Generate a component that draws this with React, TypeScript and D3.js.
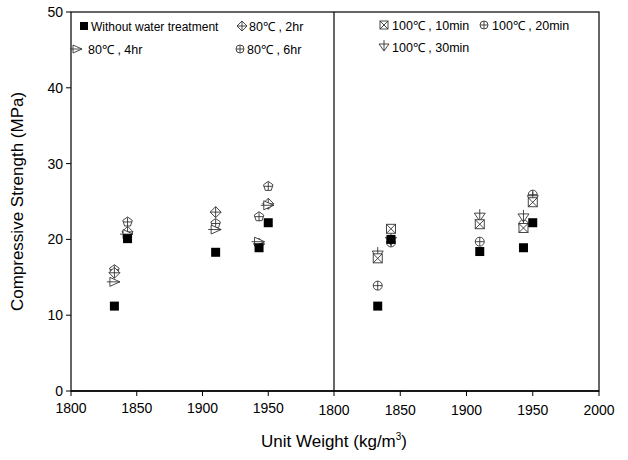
import React from "react";
import * as d3 from "d3";

const xTicksLeft = [1800, 1850, 1900, 1950];
const xTicksRight = [1800, 1850, 1900, 1950, 2000];
const yTicks = [0, 10, 20, 30, 40, 50];
const weights = [1833, 1843, 1910, 1943, 1950];

// Left panel
const noTreatLeft = [11.2, 20.1, 18.3, 18.9, 22.2];
const hr2 = [15.6, 21.0, 23.6, 19.4, 24.7];
const hr4 = [14.4, 20.7, 21.3, 19.7, 24.5];
const hr6 = [16.0, 22.3, 22.1, 23.0, 27.0];
// Right panel
const noTreatRight = [11.2, 20.0, 18.4, 18.9, 22.2];
const min10 = [17.5, 21.4, 22.0, 21.5, 24.9];
const min20 = [13.9, 19.6, 19.7, 22.0, 25.9];
const min30 = [18.0, 19.8, 23.0, 22.9, 25.3];

const W = 628, H = 460;
const L = 71, R = 599, T = 12, B = 391, MID = 334;

type Kind = "sq" | "dia" | "triR" | "circ" | "sqx" | "triD" | "pent";

function Marker({ kind, x, y, s = 4.5 }: { kind: Kind; x: number; y: number; s?: number }) {
  const st = { fill: "white", stroke: "#333", strokeWidth: 0.9 } as any;
  switch (kind) {
    case "sq":
      return <rect x={x - s} y={y - s} width={2 * s} height={2 * s} fill="#000" />;
    case "dia":
      return (
        <g>
          <polygon points={`${x},${y - s - 1} ${x + s + 1},${y} ${x},${y + s + 1} ${x - s - 1},${y}`} {...st} />
          <line x1={x - s - 1} x2={x + s + 1} y1={y} y2={y} stroke="#333" strokeWidth={0.9} />
          <line x1={x} x2={x} y1={y - s - 1} y2={y + s + 1} stroke="#333" strokeWidth={0.9} />
        </g>
      );
    case "triR":
      return (
        <g>
          <polygon points={`${x - s},${y - s} ${x + s + 1},${y} ${x - s},${y + s}`} {...st} />
          <line x1={x - s - 3} x2={x + s + 1} y1={y} y2={y} stroke="#333" strokeWidth={0.9} />
        </g>
      );
    case "circ":
      return (
        <g>
          <circle cx={x} cy={y} r={s} {...st} />
          <line x1={x - s} x2={x + s} y1={y} y2={y} stroke="#333" strokeWidth={0.9} />
          <line x1={x} x2={x} y1={y - s} y2={y + s} stroke="#333" strokeWidth={0.9} />
        </g>
      );
    case "pent": {
      const pts = d3.range(5).map((i) => {
        const a = -Math.PI / 2 + (i * 2 * Math.PI) / 5;
        return `${x + (s + 0.5) * Math.cos(a)},${y + (s + 0.5) * Math.sin(a)}`;
      }).join(" ");
      return (
        <g>
          <polygon points={pts} {...st} />
          <line x1={x - s} x2={x + s} y1={y} y2={y} stroke="#333" strokeWidth={0.9} />
          <line x1={x} x2={x} y1={y - s} y2={y + s} stroke="#333" strokeWidth={0.9} />
        </g>
      );
    }
    case "sqx":
      return (
        <g>
          <rect x={x - s} y={y - s} width={2 * s} height={2 * s} {...st} />
          <line x1={x - s} x2={x + s} y1={y - s} y2={y + s} stroke="#333" strokeWidth={0.9} />
          <line x1={x - s} x2={x + s} y1={y + s} y2={y - s} stroke="#333" strokeWidth={0.9} />
        </g>
      );
    case "triD":
      return (
        <g>
          <polygon points={`${x - s - 1},${y - s + 1} ${x + s + 1},${y - s + 1} ${x},${y + s}`} {...st} />
          <line x1={x} x2={x} y1={y - s - 3} y2={y + s} stroke="#333" strokeWidth={0.9} />
        </g>
      );
  }
  return null;
}

export default function App() {
  const y = d3.scaleLinear().domain([0, 50]).range([B, T]);
  const xl = d3.scaleLinear().domain([1800, 2000]).range([L, MID]);
  const xr = d3.scaleLinear().domain([1800, 2000]).range([MID, R]);

  const leftSeries: { kind: Kind; vals: number[] }[] = [
    { kind: "pent", vals: hr6 },
    { kind: "dia", vals: hr2 },
    { kind: "triR", vals: hr4 },
    { kind: "sq", vals: noTreatLeft },
  ];
  const rightSeries: { kind: Kind; vals: number[] }[] = [
    { kind: "circ", vals: min20 },
    { kind: "triD", vals: min30 },
    { kind: "sqx", vals: min10 },
    { kind: "sq", vals: noTreatRight },
  ];

  const font = "Arial, 'Liberation Sans', sans-serif";

  return (
    <svg width={W} height={H} style={{ position: "absolute", left: 0, top: 0, background: "white" }} fontFamily={font}>
      <rect x={0} y={0} width={W} height={H} fill="white" />
      {/* frame */}
      <rect x={L} y={T} width={R - L} height={B - T} fill="none" stroke="#000" strokeWidth={1.2} />
      <line x1={L} x2={R} y1={B} y2={B} stroke="#000" strokeWidth={1.6} />
      <line x1={MID} x2={MID} y1={T} y2={B} stroke="#000" strokeWidth={1.2} />
      {/* y ticks */}
      {yTicks.map((t) => (
        <g key={"y" + t}>
          <line x1={L - 5} x2={L} y1={y(t)} y2={y(t)} stroke="#000" />
          <text x={L - 8} y={y(t)} dy="0.35em" textAnchor="end" fontSize={14}>{t}</text>
        </g>
      ))}
      {/* x ticks */}
      {xTicksLeft.map((t) => (
        <g key={"xl" + t}>
          <line x1={xl(t)} x2={xl(t)} y1={B} y2={B + 5} stroke="#000" />
          <text x={xl(t)} y={B + 22} textAnchor="middle" fontSize={14}>{t}</text>
        </g>
      ))}
      {xTicksRight.map((t) => (
        <g key={"xr" + t}>
          <line x1={xr(t)} x2={xr(t)} y1={B} y2={B + 5} stroke="#000" />
          <text x={xr(t)} y={B + 24} textAnchor="middle" fontSize={14}>{t}</text>
        </g>
      ))}
      {/* axis titles */}
      <text x={334} y={447} textAnchor="middle" fontSize={17}>
        Unit Weight (kg/m<tspan dy={-7} fontSize={10}>3</tspan><tspan dy={7}>)</tspan>
      </text>
      <text transform={`translate(23,${(T + B) / 2}) rotate(-90)`} textAnchor="middle" fontSize={17}>
        Compressive Strength (MPa)
      </text>
      {/* data */}
      {leftSeries.map((s, si) =>
        s.vals.map((v, i) => <Marker key={`l${si}-${i}`} kind={s.kind} x={xl(weights[i])} y={y(v)} />)
      )}
      {rightSeries.map((s, si) =>
        s.vals.map((v, i) => <Marker key={`r${si}-${i}`} kind={s.kind} x={xr(weights[i])} y={y(v)} />)
      )}
      {/* legends */}
      <g fontSize={12.5}>
        <Marker kind="sq" x={84} y={26} s={4} />
        <text x={91} y={30.5} fontSize={12}>Without water treatment</text>
        <Marker kind="dia" x={242} y={26} s={4} />
        <text x={249} y={31}>80℃ , 2hr</text>
        <Marker kind="triR" x={77} y={49} s={4} />
        <text x={88} y={54}>80℃ , 4hr</text>
        <Marker kind="circ" x={240} y={49} s={4} />
        <text x={247} y={54}>80℃ , 6hr</text>

        <Marker kind="sqx" x={384} y={25} s={4} />
        <text x={392} y={30}>100℃ , 10min</text>
        <Marker kind="circ" x={484} y={25} s={4} />
        <text x={492} y={30}>100℃ , 20min</text>
        <Marker kind="triD" x={384} y={47} s={4} />
        <text x={392} y={52}>100℃ , 30min</text>
      </g>
    </svg>
  );
}
